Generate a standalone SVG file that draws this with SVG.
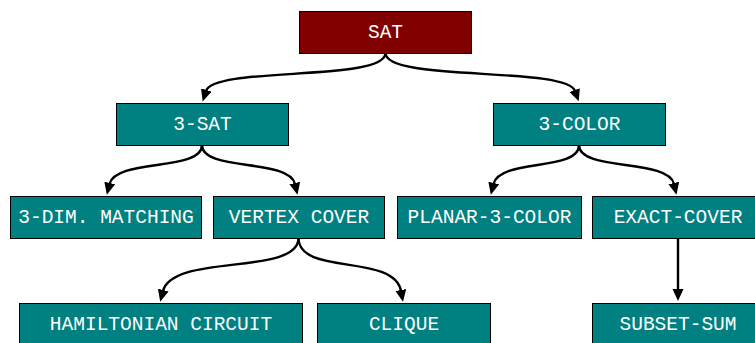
<svg xmlns="http://www.w3.org/2000/svg" width="755" height="343" viewBox="0 0 755 343">
<defs>
<style>
.n rect{fill:#008080;stroke:#000;stroke-width:1}
.n text{fill:#fff;font-family:"Liberation Mono","Courier New",monospace;font-size:19.5px;text-anchor:middle}
.e path{fill:none;stroke:#000;stroke-width:2.4}
</style>
<marker id="ah" markerWidth="14" markerHeight="12" refX="1" refY="5.5" orient="auto" markerUnits="userSpaceOnUse">
<path d="M0,0 L12,5.5 L0,11 z" fill="#000"/>
</marker>
</defs>
<rect width="755" height="343" fill="#fff"/>
<g class="e">
<path d="M385.5,53 C385.5,82 214,66 206,91" marker-end="url(#ah)"/>
<path d="M385.5,53 C385.5,82 566,66 575,91" marker-end="url(#ah)"/>
<path d="M202,145 C202,172 116,158 109.5,184" marker-end="url(#ah)"/>
<path d="M202,145 C202,172 289,158 295,184" marker-end="url(#ah)"/>
<path d="M579,145 C579,172 500,158 493.5,184" marker-end="url(#ah)"/>
<path d="M579,145 C579,172 668,158 674,184" marker-end="url(#ah)"/>
<path d="M298.5,238 C298.5,276 173,253 163,291" marker-end="url(#ah)"/>
<path d="M298.5,238 C298.5,276 394,253 401,291" marker-end="url(#ah)"/>
<path d="M678,238 L678,290" marker-end="url(#ah)"/>
</g>
<g id="sat" class="n"><rect x="299.5" y="11.5" width="172" height="42" style="fill:#800000"/><text x="385.5" y="38">SAT</text></g>
<g id="sat3" class="n"><rect x="116.5" y="103.5" width="172" height="42"/><text x="202.5" y="130">3-SAT</text></g>
<g id="color3" class="n"><rect x="493.5" y="103.5" width="172" height="42"/><text x="579.5" y="130">3-COLOR</text></g>
<g id="dim3" class="n"><rect x="10.5" y="196.5" width="191" height="42"/><text x="106" y="223">3-DIM. MATCHING</text></g>
<g id="vc" class="n"><rect x="213.5" y="196.5" width="171" height="42"/><text x="299" y="223">VERTEX COVER</text></g>
<g id="planar" class="n"><rect x="397.5" y="196.5" width="184" height="42"/><text x="489.5" y="223">PLANAR-3-COLOR</text></g>
<g id="exact" class="n"><rect x="592.5" y="196.5" width="172" height="42"/><text x="678" y="223">EXACT-COVER</text></g>
<g id="ham" class="n"><rect x="19.5" y="303.5" width="283" height="42"/><text x="161" y="330">HAMILTONIAN CIRCUIT</text></g>
<g id="clique" class="n"><rect x="317.5" y="303.5" width="173" height="42"/><text x="404" y="330">CLIQUE</text></g>
<g id="subset" class="n"><rect x="592.5" y="303.5" width="172" height="42"/><text x="678" y="330">SUBSET-SUM</text></g>
</svg>
